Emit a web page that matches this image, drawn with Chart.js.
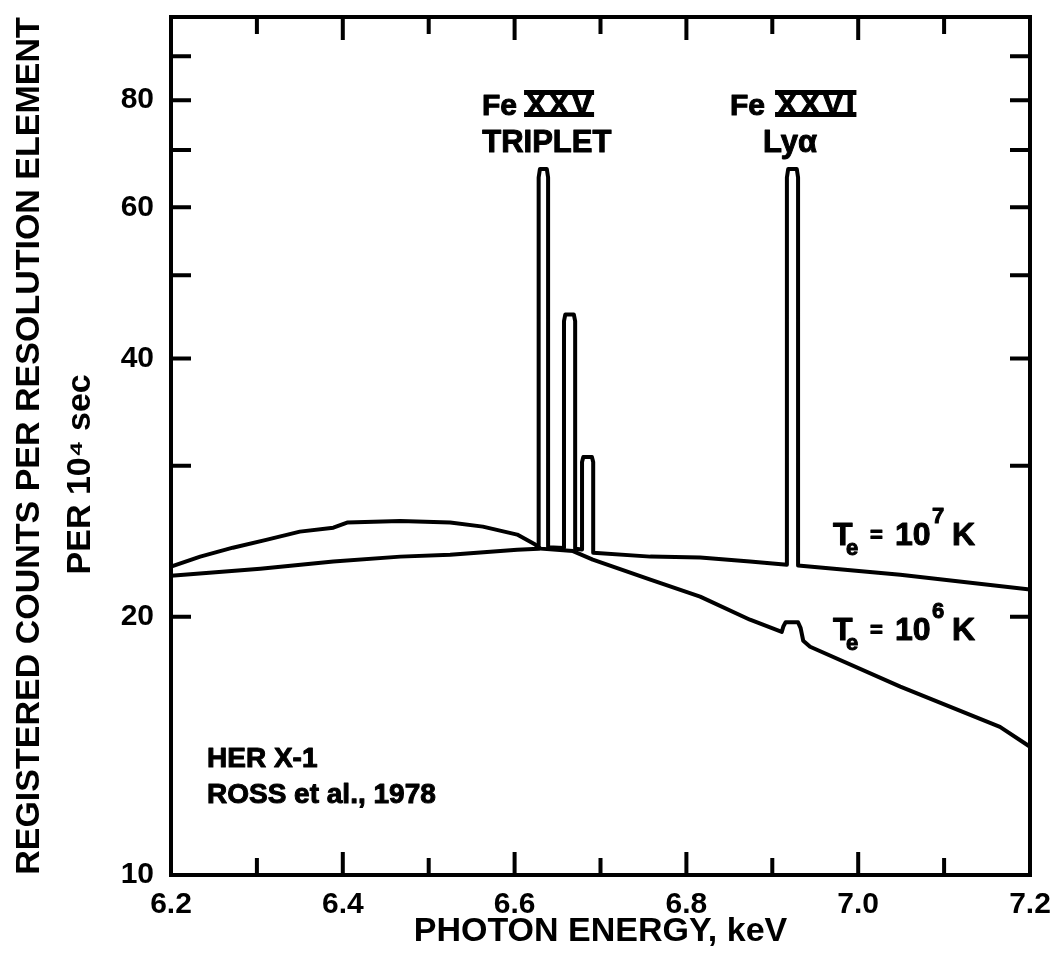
<!DOCTYPE html>
<html>
<head>
<meta charset="utf-8">
<script src="https://cdn.jsdelivr.net/npm/chart.js@4.4.1/dist/chart.umd.min.js"></script>
<style>
  html, body { margin: 0; padding: 0; background: #fff; }
  #wrap { width: 1057px; height: 966px; position: relative; }
</style>
</head>
<body>
<div id="wrap"><canvas id="spectrumChart"></canvas></div>
<script>
// Te = 10^7 K model spectrum (continuum + Fe XXV triplet + Fe XXVI Ly-alpha)
const energyHot = [6.200, 6.304, 6.389, 6.467, 6.525, 6.603, 6.628,
    6.628, 6.6295, 6.6375, 6.639, 6.639,
    6.6575, 6.6575, 6.659, 6.669, 6.6705, 6.6705,
    6.6785, 6.6785, 6.680, 6.690, 6.6915, 6.6915,
    6.758, 6.816, 6.874, 6.917,
    6.917, 6.9185, 6.9285, 6.930, 6.930,
    7.049, 7.200];
const countsHot = [22.33, 22.75, 23.19, 23.50, 23.62, 23.94, 24.0,
    65.0, 66.5, 66.5, 65.0, 24.1,
    24.05, 44.2, 45.0, 45.0, 44.2, 24.0,
    23.95, 30.3, 30.7, 30.7, 30.3, 23.75,
    23.50, 23.44, 23.19, 23.00,
    65.0, 66.5, 66.5, 65.0, 22.94,
    22.39, 21.51];

// Te = 10^6 K model spectrum
const energyCool = [6.200, 6.234, 6.272, 6.312, 6.350, 6.389, 6.405, 6.467, 6.525, 6.563,
    6.603, 6.624, 6.630, 6.668, 6.691, 6.758, 6.816, 6.874, 6.911,
    6.913, 6.9155, 6.930, 6.933, 6.936, 6.944, 7.049, 7.165, 7.200];
const countsCool = [22.88, 23.5, 24.07, 24.6, 25.13, 25.4, 25.75, 25.85, 25.75, 25.47,
    24.93, 24.27, 24.01, 23.85, 23.31, 22.09, 21.11, 19.84, 19.2,
    19.5, 19.7, 19.7, 19.4, 18.75, 18.45, 16.58, 14.88, 14.11];

const xTickValues = [6.2, 6.3, 6.4, 6.5, 6.6, 6.7, 6.8, 6.9, 7.0, 7.1, 7.2];
const xTickLabels = ['6.2', '', '6.4', '', '6.6', '', '6.8', '', '7.0', '', '7.2'];
const yTickValues = [10, 20, 30, 40, 50, 60, 70, 80, 90];
const yTickLabels = ['10', '20', '', '40', '', '60', '', '80', ''];

const FONT = "'Liberation Sans', Arial, sans-serif";

// tick marks point into the plot, on all four sides
const inwardTicks = {
    id: 'inwardTicks',
    afterDraw(chart) {
        const { ctx, chartArea: a, scales: { x, y } } = chart;
        ctx.save();
        ctx.strokeStyle = '#000';
        ctx.lineWidth = 4;
        ctx.beginPath();
        x.ticks.forEach((t, i) => {
            if (i === 0 || i === x.ticks.length - 1) return;
            const px = x.getPixelForValue(t.value);
            const len = xTickLabels[i] ? 23 : 17;
            ctx.moveTo(px, a.bottom); ctx.lineTo(px, a.bottom - len);
            ctx.moveTo(px, a.top); ctx.lineTo(px, a.top + len);
        });
        y.ticks.forEach(t => {
            if (t.value <= 10) return;
            const py = y.getPixelForValue(t.value);
            ctx.moveTo(a.left, py); ctx.lineTo(a.left + 20, py);
            ctx.moveTo(a.right, py); ctx.lineTo(a.right - 20, py);
        });
        ctx.stroke();
        ctx.lineJoin = 'miter';
        ctx.strokeRect(a.left, a.top, a.right - a.left, a.bottom - a.top);
        ctx.restore();
    }
};

// fill + thin stroke, the lettering in the figure is heavy
function heavyText(ctx, str, x, y) {
    ctx.fillText(str, x, y);
    ctx.strokeText(str, x, y);
}

function spaced(ctx, str, left, base, gap) {
    let cx = left;
    for (const ch of str) {
        heavyText(ctx, ch, cx, base);
        cx += ctx.measureText(ch).width + gap;
    }
    return cx - gap;
}

function roman(ctx, str, left, base, size) {
    ctx.font = 'bold ' + size + 'px ' + FONT;
    ctx.textAlign = 'left';
    const right = spaced(ctx, str, left + 2, base, 3);
    ctx.fillRect(left, base - 24, right - left + 2, 5);
    ctx.fillRect(left, base - 2, right - left + 2, 5);
}

function tempLabel(ctx, left, base, power) {
    ctx.textAlign = 'left';
    ctx.font = 'bold 32px ' + FONT;
    heavyText(ctx, 'T', left, base);
    ctx.font = 'bold 22px ' + FONT;
    heavyText(ctx, 'e', left + 13, base + 10);
    ctx.font = 'bold 22px ' + FONT;
    heavyText(ctx, '=', left + 37, base - 3);
    ctx.font = 'bold 32px ' + FONT;
    heavyText(ctx, '10', left + 62, base);
    ctx.font = 'bold 22px ' + FONT;
    heavyText(ctx, power, left + 99, base - 22);
    ctx.font = 'bold 32px ' + FONT;
    heavyText(ctx, 'K', left + 119, base);
}

const annotations = {
    id: 'annotations',
    afterDraw(chart) {
        const { ctx, chartArea: a, scales: { x } } = chart;
        ctx.save();
        ctx.fillStyle = '#000';
        ctx.strokeStyle = '#000';
        ctx.lineWidth = 1;
        ctx.lineJoin = 'round';
        ctx.textBaseline = 'alphabetic';

        // Fe XXV triplet
        ctx.font = 'bold 30px ' + FONT;
        ctx.textAlign = 'left';
        heavyText(ctx, 'Fe', x.getPixelForValue(6.562), a.top + 98);
        roman(ctx, 'XXV', x.getPixelForValue(6.611), a.top + 97, 30);
        ctx.font = 'bold 31px ' + FONT;
        ctx.textAlign = 'center';
        heavyText(ctx, 'TRIPLET', x.getPixelForValue(6.6375), a.top + 135);

        // Fe XXVI Ly alpha
        ctx.font = 'bold 30px ' + FONT;
        ctx.textAlign = 'left';
        heavyText(ctx, 'Fe', x.getPixelForValue(6.8508), a.top + 98);
        roman(ctx, 'XXVI', x.getPixelForValue(6.9032), a.top + 97, 30);
        ctx.font = 'bold 31px ' + FONT;
        ctx.textAlign = 'center';
        heavyText(ctx, 'Ly\u03b1', x.getPixelForValue(6.9206), a.top + 135);

        // temperature labels
        const tl = x.getPixelForValue(6.9707);
        tempLabel(ctx, tl, a.top + 528, '7');
        tempLabel(ctx, tl, a.top + 623, '6');

        // source
        ctx.font = 'bold 28px ' + FONT;
        ctx.textAlign = 'left';
        const sl = x.getPixelForValue(6.2419);
        heavyText(ctx, 'HER X-1', sl, a.top + 750);
        heavyText(ctx, 'ROSS et al., 1978', sl, a.top + 786);
        ctx.restore();
    }
};

const lineStyle = {
    borderColor: '#000',
    borderWidth: 4,
    pointRadius: 0,
    tension: 0,
    fill: false,
    borderJoinStyle: 'round',
    borderCapStyle: 'round'
};

new Chart(document.getElementById('spectrumChart'), {
    type: 'line',
    data: {
        datasets: [
            Object.assign({ label: 'Te = 10^7 K', data: energyHot.map((e, i) => ({ x: e, y: countsHot[i] })) }, lineStyle),
            Object.assign({ label: 'Te = 10^6 K', data: energyCool.map((e, i) => ({ x: e, y: countsCool[i] })) }, lineStyle)
        ]
    },
    options: {
        responsive: true,
        maintainAspectRatio: false,
        animation: false,
        layout: { padding: { top: 17, right: 27, left: 0, bottom: 0 } },
        plugins: { legend: { display: false }, tooltip: { enabled: false } },
        scales: {
            x: {
                type: 'linear', position: 'bottom', min: 6.2, max: 7.2,
                afterBuildTicks: s => { s.ticks = xTickValues.map(v => ({ value: v })); },
                afterFit: s => { s.height = 91; s.paddingLeft = 0; s.paddingRight = 0; },
                ticks: {
                    callback: (v, i) => xTickLabels[i],
                    font: { family: FONT, size: 30, weight: 'bold' },
                    color: '#000', padding: 12, maxRotation: 0, autoSkip: false
                },
                grid: { display: false, drawTicks: false },
                border: { display: true, color: '#000', width: 4 },
                title: {
                    display: true, text: 'PHOTON ENERGY, keV', color: '#000',
                    font: { family: FONT, size: 34, weight: 'bold' },
                    padding: { top: 0, bottom: 14 }
                }
            },
            x2: {
                type: 'linear', position: 'top', min: 6.2, max: 7.2,
                ticks: { display: false },
                grid: { display: false, drawTicks: false },
                border: { display: true, color: '#000', width: 4 },
                afterFit: s => { s.height = 0; s.paddingLeft = 0; s.paddingRight = 0; }
            },
            y: {
                type: 'logarithmic', position: 'left', min: 10, max: 100,
                afterBuildTicks: s => { s.ticks = yTickValues.map(v => ({ value: v })); },
                afterFit: s => { s.width = 171; s.paddingTop = 0; s.paddingBottom = 0; },
                ticks: {
                    callback: (v, i) => yTickLabels[i],
                    font: { family: FONT, size: 30, weight: 'bold' },
                    color: '#000', padding: 17, autoSkip: false
                },
                grid: { display: false, drawTicks: false },
                border: { display: true, color: '#000', width: 4 },
                title: {
                    display: true, color: '#000',
                    text: ['REGISTERED COUNTS PER RESOLUTION ELEMENT', 'PER 10\u2074 sec' + '\u00a0'.repeat(6)],
                    font: { family: FONT, size: 34, weight: 'bold', lineHeight: 1.5 },
                    padding: { top: 4, bottom: 0 }
                }
            },
            y2: {
                type: 'logarithmic', position: 'right', min: 10, max: 100,
                ticks: { display: false },
                grid: { display: false, drawTicks: false },
                border: { display: true, color: '#000', width: 4 },
                afterFit: s => { s.width = 0; s.paddingTop = 0; s.paddingBottom = 0; }
            }
        }
    },
    plugins: [inwardTicks, annotations]
});
</script>
</body>
</html>
